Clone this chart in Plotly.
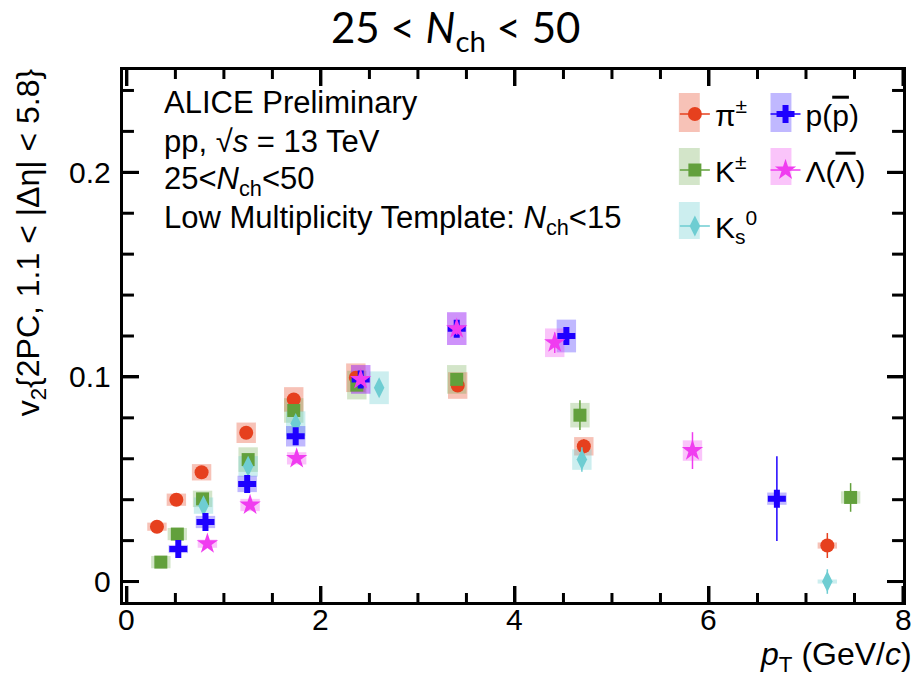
import plotly.graph_objects as go

# ---------------- data ----------------
pi_pt   = [0.31, 0.51, 0.77, 1.23, 1.72, 2.36, 3.41, 4.71, 7.22]
pi_v2   = [0.0268, 0.0400, 0.0534, 0.0727, 0.0890, 0.0996, 0.0958, 0.0661, 0.0176]
pi_stat = [0.0005, 0.0005, 0.0006, 0.0008, 0.0010, 0.0012, 0.0015, 0.0035, 0.0061]
pi_sys  = [0.0020, 0.0030, 0.0040, 0.0050, 0.0060, 0.0070, 0.0065, 0.0045, 0.0015]

k_pt   = [0.35, 0.52, 0.78, 1.25, 1.72, 2.37, 3.40, 4.67, 7.46]
k_v2   = [0.0095, 0.0232, 0.0404, 0.0596, 0.0836, 0.0960, 0.0988, 0.0813, 0.0411]
k_stat = [0.0008, 0.0008, 0.0010, 0.0010, 0.0012, 0.0015, 0.0020, 0.0073, 0.0070]
k_sys  = [0.0030, 0.0030, 0.0040, 0.0060, 0.0060, 0.0070, 0.0070, 0.0060, 0.0030]

k0_pt   = [0.79, 1.25, 1.74, 2.60, 4.69, 7.22]
k0_v2   = [0.0371, 0.0563, 0.0772, 0.0947, 0.0596, 0.0000]
k0_stat = [0.0010, 0.0010, 0.0012, 0.0020, 0.0060, 0.0060]
k0_sys  = [0.0040, 0.0050, 0.0060, 0.0080, 0.0050, 0.0010]

p_pt   = [0.53, 0.81, 1.24, 1.74, 2.41, 3.40, 4.53, 6.70]
p_v2   = [0.0159, 0.0291, 0.0477, 0.0710, 0.0988, 0.1236, 0.1200, 0.0405]
p_stat = [0.0010, 0.0010, 0.0012, 0.0015, 0.0020, 0.0030, 0.0030, 0.0207]
p_sys  = [0.0020, 0.0030, 0.0040, 0.0050, 0.0070, 0.0080, 0.0080, 0.0030]

l_pt   = [0.83, 1.27, 1.75, 2.41, 3.40, 4.41, 5.83]
l_v2   = [0.0185, 0.0374, 0.0602, 0.0988, 0.1236, 0.1167, 0.0640]
l_stat = [0.0010, 0.0012, 0.0015, 0.0020, 0.0030, 0.0050, 0.0090]
l_sys  = [0.0020, 0.0030, 0.0030, 0.0070, 0.0080, 0.0070, 0.0050]

x_ticks = [0, 2, 4, 6, 8]
x_ticktext = ["0", "2", "4", "6", "8"]
x_minor = [0.5, 1.0, 1.5, 2.5, 3.0, 3.5, 4.5, 5.0, 5.5, 6.5, 7.0, 7.5]
y_ticks = [0, 0.1, 0.2]
y_ticktext = ["0", "0.1", "0.2"]
y_minor = [0.02, 0.04, 0.06, 0.08, 0.12, 0.14, 0.16, 0.18, 0.22, 0.24]

OV = "<span style='text-decoration:overline'>{}</span>"
species = [
    # name, pt, v2, stat, sys, color, box color, symbol, size, legend, legend row
    ("π<sup>±</sup>", pi_pt, pi_v2, pi_stat, pi_sys, "#E6401E", "rgba(230,64,30,0.32)", "circle", 14, "legend", 0),
    ("K<sup>±</sup>", k_pt, k_v2, k_stat, k_sys, "#62A03C", "rgba(98,160,60,0.28)", "square", 13, "legend", 1),
    ("K<sub>s</sub><sup>0</sup>", k0_pt, k0_v2, k0_stat, k0_sys, "#6ECDD2", "rgba(110,205,210,0.35)", "diamond-tall", 15, "legend", 2),
    ("p(" + OV.format("p") + ")", p_pt, p_v2, p_stat, p_sys, "#1E00FF", "rgba(30,0,255,0.28)", "cross", 15, "legend2", 0),
    ("Λ(" + OV.format("Λ") + ")", l_pt, l_v2, l_stat, l_sys, "#F03CF0", "rgba(240,60,240,0.30)", "star", 16, "legend2", 1),
]

# ---------------- geometry ----------------
W, H = 915, 681
L, R, T, B = 123, 906, 70, 602
PW, PH = R - L, B - T
XR = [-0.04, 8.0]
YR = [-0.01, 0.25]


def fx(px):
    return (px - L) / PW


def fy(py):
    return (B - py) / PH


fig = go.Figure()

# systematic boxes
for name, pt, v2, st, sy, col, bcol, sym, sz, leg, row in species:
    fig.add_trace(go.Bar(
        x=pt, y=[2 * s for s in sy], base=[v - s for v, s in zip(v2, sy)],
        width=0.2, marker=dict(color=bcol, line=dict(width=0)),
        showlegend=False, hoverinfo="skip"))

# inside tick marks on all four sides (ROOT style), drawn as line traces
tx, ty = [], []
for vals, ln in ((x_ticks, 16), (x_minor, 9)):
    d = ln / PH * (YR[1] - YR[0])
    for v in vals:
        tx += [v, v, None, v, v, None]
        ty += [YR[0], YR[0] + d, None, YR[1], YR[1] - d, None]
for vals, ln in ((y_ticks, 16), (y_minor, 11)):
    d = ln / PW * (XR[1] - XR[0])
    for v in vals:
        tx += [XR[0], XR[0] + d, None, XR[1], XR[1] - d, None]
        ty += [v, v, None, v, v, None]
fig.add_trace(go.Scatter(x=tx, y=ty, mode="lines", line=dict(color="black", width=3),
                         showlegend=False, hoverinfo="skip", connectgaps=False))

# points with stat errors
for name, pt, v2, st, sy, col, bcol, sym, sz, leg, row in species:
    fig.add_trace(go.Scatter(
        x=pt, y=v2, mode="markers",
        marker=dict(symbol=sym, size=sz, color=col, line=dict(width=0)),
        error_y=dict(type="data", array=st, visible=True, color=col, thickness=1.5, width=0),
        showlegend=False))

# legend entries
for name, pt, v2, st, sy, col, bcol, sym, sz, leg, row in species:
    fig.add_trace(go.Scatter(
        x=[None], y=[None], mode="lines+markers", name=name,
        marker=dict(symbol=sym, size=sz, color=col, line=dict(width=0)),
        line=dict(color=col, width=1.5),
        legend=leg, legendgroup=name, showlegend=True))

shapes = []
# legend background boxes
col_box_x = {"legend": (681, 702), "legend2": (773, 794)}
row_box_y = [(93, 132), (148, 185), (202, 239)]
for name, pt, v2, st, sy, col, bcol, sym, sz, leg, row in species:
    x0, x1 = col_box_x[leg]
    y0, y1 = row_box_y[row]
    shapes.append(dict(type="rect", xref="paper", yref="paper",
                       x0=fx(x0), x1=fx(x1), y0=fy(y1), y1=fy(y0),
                       fillcolor=bcol, line=dict(width=0), layer="above"))

FONT = "Liberation Sans, Arial, sans-serif"
txt_font = dict(family=FONT, size=31, color="black")
annotations = [
    dict(text="ALICE Preliminary", x=fx(162), y=fy(102)),
    dict(text="pp, √<i>s</i> = 13 TeV", x=fx(162), y=fy(141)),
    dict(text="25&lt;<i>N</i><sub>ch</sub>&lt;50", x=fx(162), y=fy(181)),
    dict(text="Low Multiplicity Template: <i>N</i><sub>ch</sub>&lt;15", x=fx(162), y=fy(220)),
]
for a in annotations:
    a.update(xref="paper", yref="paper", xanchor="left", yanchor="middle",
             showarrow=False, font=txt_font)

# x tick labels (close to the axis like ROOT)
for v, t in zip(x_ticks, x_ticktext):
    annotations.append(dict(text=t, x=v, xref="x", y=fy(619), yref="paper",
                            xanchor="center", yanchor="middle", showarrow=False,
                            font=dict(family=FONT, size=30, color="black")))
# y tick labels
for v, t in zip(y_ticks, y_ticktext):
    annotations.append(dict(text=t, y=v, yref="y", x=fx(113), xref="paper",
                            xanchor="right", yanchor="middle", showarrow=False,
                            font=dict(family=FONT, size=30, color="black")))

# y-axis title (top aligned like ROOT)
annotations.append(dict(
    text="v<sub>2</sub>{2PC, 1.1 &lt; |Δη| &lt; 5.8}", textangle=-90,
    xref="paper", yref="paper", x=fx(31), y=fy(66), xanchor="center", yanchor="top",
    showarrow=False, font=dict(family=FONT, size=32, color="black")))
# x-axis title (right aligned)
annotations.append(dict(
    text="<i>p</i><sub>T</sub> (GeV/<i>c</i>)",
    xref="paper", yref="paper", x=fx(917), y=fy(656), xanchor="right", yanchor="middle",
    showarrow=False, font=dict(family=FONT, size=32, color="black")))
# title
annotations.append(dict(
    text="25 &lt; <i>N</i><sub>ch</sub> &lt; 50",
    xref="paper", yref="paper", x=fx(457), y=fy(30), xanchor="center", yanchor="middle",
    showarrow=False, font=dict(family="Lato, Open Sans, sans-serif", size=42, color="black")))

axis_common = dict(
    showline=True, linecolor="black", linewidth=2.5, mirror="ticks",
    ticks="inside", ticklen=16, tickwidth=3, tickcolor="black",
    showticklabels=False, showgrid=False, zeroline=False,
)

fig.update_layout(
    width=W, height=H,
    margin=dict(l=L, r=W - R, t=T, b=H - B),
    paper_bgcolor="white", plot_bgcolor="white",
    barmode="overlay",
    xaxis=dict(range=XR, tickmode="array", tickvals=x_ticks, **axis_common),
    yaxis=dict(range=YR, tickmode="array", tickvals=y_ticks, **axis_common),
    legend=dict(x=fx(677), y=fy(88), xanchor="left", yanchor="top",
                bgcolor="rgba(0,0,0,0)", tracegroupgap=14,
                font=dict(family=FONT, size=30, color="black")),
    legend2=dict(x=fx(768), y=fy(88), xanchor="left", yanchor="top",
                 bgcolor="rgba(0,0,0,0)", tracegroupgap=14,
                 font=dict(family=FONT, size=30, color="black")),
    shapes=shapes,
    annotations=annotations,
)

fig.write_html("out.html")
